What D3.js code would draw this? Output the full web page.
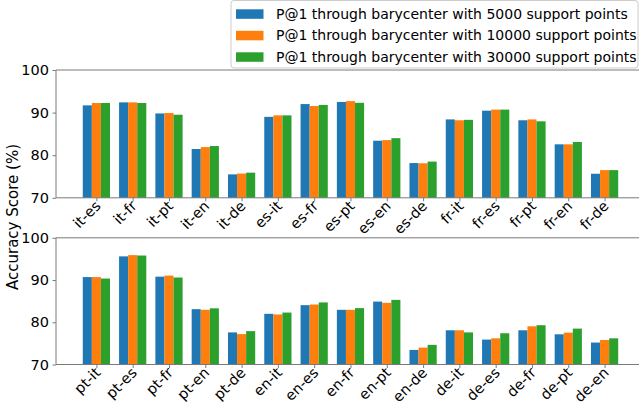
<!DOCTYPE html>
<html><head><meta charset="utf-8">
<script src="https://cdn.jsdelivr.net/npm/d3@7"></script>
<style>body{margin:0;background:#fff}svg{display:block;font-family:"DejaVu Sans",sans-serif}</style>
</head><body><svg id="c" width="639" height="404"></svg>
<script>
const topCategories = ["it-es","it-fr","it-pt","it-en","it-de","es-it","es-fr","es-pt","es-en","es-de","fr-it","fr-es","fr-pt","fr-en","fr-de"];
const top5000  = [91.7,92.4,89.8,81.45,75.5,89.0,92.0,92.5,83.4,78.15,88.4,90.45,88.2,82.55,75.65];
const top10000 = [92.25,92.4,89.9,81.9,75.7,89.35,91.55,92.7,83.55,78.1,88.2,90.7,88.4,82.55,76.5];
const top30000 = [92.25,92.25,89.5,82.15,75.9,89.35,91.8,92.3,84.0,78.5,88.3,90.7,87.95,83.1,76.5];

const bottomCategories = ["pt-it","pt-es","pt-fr","pt-en","pt-de","en-it","en-es","en-fr","en-pt","en-de","de-it","de-es","de-fr","de-pt","de-en"];
const bottom5000  = [90.7,95.6,90.8,83.1,77.6,82.0,84.05,82.95,84.9,73.45,78.1,75.9,78.1,77.15,75.2];
const bottom10000 = [90.7,95.9,91.05,82.95,77.2,81.85,84.2,82.95,84.6,74.0,78.1,76.2,79.05,77.55,75.8];
const bottom30000 = [90.35,95.8,90.6,83.3,77.9,82.3,84.7,83.35,85.3,74.65,77.6,77.4,79.3,78.5,76.2];

const seriesNames = ["P@1 through barycenter with 5000 support points","P@1 through barycenter with 10000 support points","P@1 through barycenter with 30000 support points"];
const colors = ["#1f77b4","#ff7f0e","#2ca02c"];
const yTicks = [70,80,90,100];
const yLabel = "Accuracy Score (%)";

const svg = d3.select("#c");
const spine = "#7a7a7a";

function panel(cats, series, yTop, yBot) {
  const x = d3.scaleLinear().domain([-1.1125, cats.length - 1 + 1.1125]).range([56, 56 + (cats.length - 1 + 2.225) * 36.3]);
  const y = d3.scaleLinear().domain([70, 100]).range([yBot, yTop]);
  const g = svg.append("g");
  const bw = x(0.25) - x(0);
  series.forEach((vals, si) => {
    g.selectAll(null).data(vals).enter().append("rect")
      .attr("x", (d, i) => x(i + (si - 1) * 0.25) - bw / 2)
      .attr("width", bw)
      .attr("y", d => y(d))
      .attr("height", d => y(70) - y(d))
      .attr("fill", colors[si]);
  });
  const [x0, x1] = x.range();
  g.append("line").attr("x1", x0).attr("x2", x1).attr("y1", yTop).attr("y2", yTop).attr("stroke", spine);
  g.append("line").attr("x1", x0).attr("x2", x1).attr("y1", yBot).attr("y2", yBot).attr("stroke", spine);
  g.append("line").attr("x1", x0).attr("x2", x0).attr("y1", yTop).attr("y2", yBot).attr("stroke", spine);
  const ya = d3.axisLeft(y).tickValues(yTicks).tickSize(3.5).tickPadding(3.5);
  const yg = g.append("g").attr("transform", `translate(${x0},0)`).call(ya);
  yg.select(".domain").remove();
  yg.selectAll(".tick line").attr("stroke", spine);
  yg.selectAll(".tick text").attr("font-size", 14.5).attr("font-family", "DejaVu Sans").attr("fill", "#000");
  const xa = d3.axisBottom(x).tickValues(d3.range(cats.length)).tickFormat(i => cats[i]).tickSize(3.5).tickPadding(3.5);
  const xg = g.append("g").attr("transform", `translate(0,${yBot})`).call(xa);
  xg.select(".domain").remove();
  xg.selectAll(".tick line").attr("stroke", spine);
  xg.selectAll(".tick text").attr("font-size", 14.5).attr("font-family", "DejaVu Sans").attr("fill", "#000")
    .attr("text-anchor", "end").attr("dy", "0.35em")
    .attr("transform", "translate(1,5.5) rotate(-45)").attr("x", 0).attr("y", 0);
}

panel(topCategories, [top5000, top10000, top30000], 70, 197.8);
panel(bottomCategories, [bottom5000, bottom10000, bottom30000], 237.8, 364.5);

svg.append("text").attr("transform", "translate(18,217) rotate(-90)")
  .attr("text-anchor", "middle").attr("font-size", 15).text(yLabel);

const lg = svg.append("g");
lg.append("rect").attr("x", 231).attr("y", 0.5).attr("width", 407).attr("height", 67.5).attr("rx", 3)
  .attr("fill", "rgba(255,255,255,0.8)").attr("stroke", "#cccccc");
seriesNames.forEach((n, i) => {
  const cy = 14 + i * 21.5;
  lg.append("rect").attr("x", 236).attr("y", cy - 4.7).attr("width", 27.5).attr("height", 9.5).attr("fill", colors[i]);
  lg.append("text").attr("x", 276).attr("y", cy).attr("dy", "0.35em").attr("font-size", 14).text(n);
});
</script></body></html>
